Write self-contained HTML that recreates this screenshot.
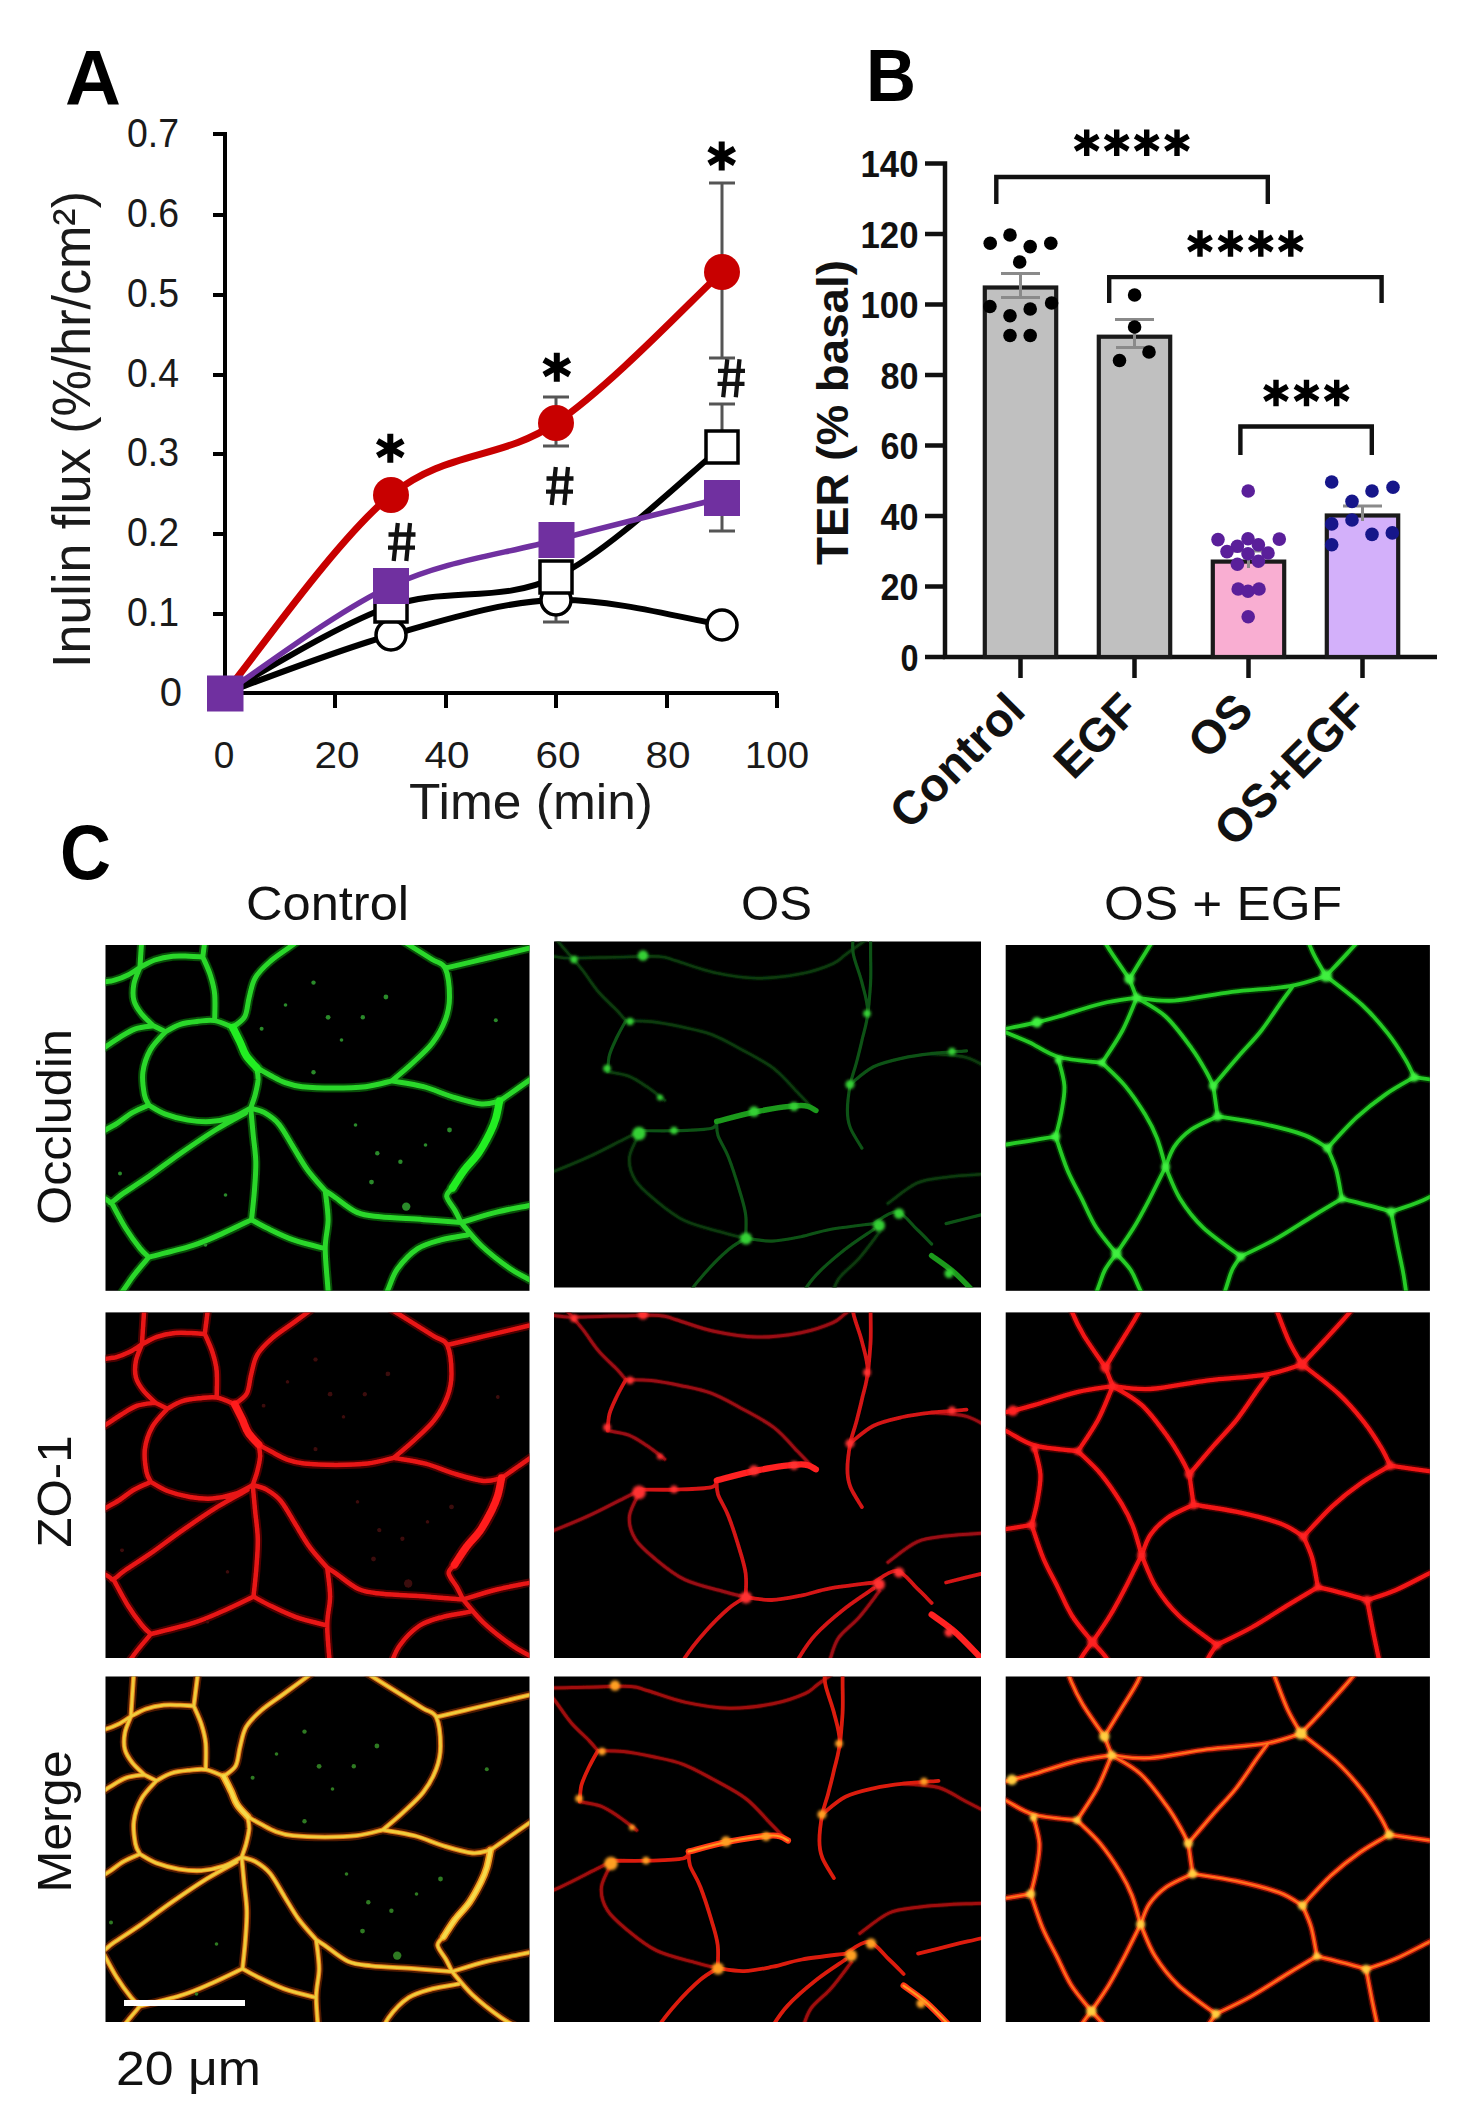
<!DOCTYPE html>
<html><head><meta charset="utf-8">
<style>
html,body{margin:0;padding:0;background:#fff;}
body{width:1470px;height:2117px;overflow:hidden;}
svg{display:block;}
text{font-family:"Liberation Sans",sans-serif;}
</style></head>
<body>
<svg width="1470" height="2117" viewBox="0 0 1470 2117">
<defs>
<g id="ast" stroke="#000" stroke-width="5.4" fill="none"><path d="M0,-13.3V13.3 M-11.5,-6.6L11.5,6.6 M-11.5,6.6L11.5,-6.6"/></g>
<g id="astA" stroke="#000" stroke-width="6" fill="none"><path d="M0,-14.5V14.5 M-12.8,-7.4L12.8,7.4 M-12.8,7.4L12.8,-7.4"/></g>
<g id="hash" stroke="#111" stroke-width="4.3" fill="none"><path d="M-4.2,-19L-8.3,19 M8,-19L4.3,19 M-13.5,-7.5H13.5 M-14,5.6H13"/></g>
<!--NETDEFS-->
<filter id="soft" x="-5%" y="-5%" width="110%" height="110%"><feGaussianBlur stdDeviation="0.75"/></filter>
<filter id="soft2" x="-20%" y="-20%" width="140%" height="140%"><feGaussianBlur stdDeviation="1.6"/></filter>
<g id="ves"><circle cx="208.0" cy="37.6" r="2.2"/><circle cx="222.6" cy="72.3" r="2.4"/><circle cx="257.3" cy="72.3" r="2.2"/><circle cx="280.4" cy="52.0" r="2.4"/><circle cx="156.1" cy="83.8" r="2.0"/><circle cx="208.0" cy="127.2" r="2.2"/><circle cx="344.0" cy="185.0" r="2.4"/><circle cx="271.8" cy="208.2" r="2.2"/><circle cx="294.9" cy="216.8" r="2.2"/><circle cx="266.0" cy="237.1" r="2.4"/><circle cx="300.7" cy="261.6" r="4.2"/><circle cx="390.3" cy="75.2" r="2.0"/><circle cx="14.5" cy="228.4" r="2.0"/><circle cx="236.0" cy="95.0" r="1.8"/><circle cx="180.0" cy="60.0" r="1.8"/><circle cx="320.0" cy="200.0" r="1.8"/><circle cx="120.0" cy="250.0" r="1.8"/><circle cx="100.0" cy="300.0" r="1.8"/><circle cx="250.0" cy="180.0" r="1.8"/></g>
<path id="n_ctrl_1" d="M127.2,82.3C128.4,84.8 132.4,92.6 134.7,97.3C136.9,102.0 137.9,106.5 140.7,110.7C143.4,114.9 149.4,120.7 151.2,122.7 M394.0,156.1C393.4,159.0 391.9,168.2 390.3,173.5C388.7,178.8 387.4,182.1 384.5,187.9C381.6,193.7 377.3,201.9 373.0,208.2C368.7,214.5 362.8,219.7 358.5,225.5C354.2,231.3 348.9,240.0 347.0,242.9"/>
<path id="n_ctrl_2" d="M38.6,-39.9C38.1,-33.3 36.6,-10.4 35.9,0.0C35.2,10.4 34.6,18.7 34.4,22.4 M34.4,22.4C32.4,23.6 26.6,27.8 22.4,29.9C18.2,32.0 12.7,34.1 9.0,35.2C5.3,36.3 8.1,35.4 0.0,36.7C-8.1,38.0 -32.9,42.2 -39.5,43.3 M34.4,22.4C36.9,21.2 43.9,16.9 49.4,15.0C54.9,13.1 61.6,11.8 67.3,11.2C73.0,10.6 78.8,11.1 83.8,11.2C88.8,11.3 95.0,11.9 97.3,12.0 M97.3,12.0C97.5,10.0 97.7,8.6 98.8,0.0C99.9,-8.6 102.9,-33.1 103.8,-39.7 M97.3,12.0C98.5,15.0 102.8,23.7 104.8,29.9C106.8,36.1 108.5,41.9 109.2,49.4C109.9,56.9 109.2,70.6 109.2,74.8 M34.4,22.4C33.4,25.1 29.4,33.4 28.4,38.9C27.4,44.4 27.1,50.4 28.4,55.4C29.6,60.4 32.6,64.6 35.9,68.8C39.1,73.0 45.9,78.8 47.9,80.8 M47.9,80.8C44.9,81.3 35.6,81.8 29.9,83.8C24.2,85.8 18.5,89.8 13.5,92.8C8.5,95.8 7.8,96.6 0.0,101.8C-7.8,107.0 -27.7,120.3 -33.3,124.0 M47.9,80.8L59.9,86.8 M59.9,86.8C62.4,85.5 69.3,81.0 74.8,79.3C80.3,77.5 87.1,76.9 92.8,76.3C98.5,75.7 103.5,74.6 109.2,75.6C114.9,76.6 124.2,81.2 127.2,82.3 M59.9,86.8C57.4,89.8 48.6,98.1 44.9,104.8C41.1,111.5 38.4,119.7 37.4,127.2C36.4,134.7 37.9,144.2 38.9,149.7C39.9,155.2 42.6,158.4 43.4,160.1 M127.2,82.3C129.2,80.5 136.4,76.8 139.2,71.8C141.9,66.8 141.9,58.9 143.7,52.4C145.4,45.9 146.2,38.9 149.7,32.9C153.2,26.9 158.4,22.0 164.6,16.5C170.8,11.0 178.0,6.7 187.1,0.0C196.2,-6.7 214.0,-19.7 219.4,-23.7 M151.2,122.7C151.4,124.7 152.8,130.2 152.6,134.7C152.3,139.2 150.9,145.0 149.7,149.7C148.5,154.4 145.9,160.9 145.2,163.1 M151.2,122.7C153.4,124.0 159.9,127.7 164.6,130.2C169.3,132.7 174.3,135.8 179.6,137.7C184.9,139.6 188.5,140.8 196.6,141.7C204.7,142.6 217.8,143.1 228.4,143.1C239.0,143.1 250.6,142.9 260.2,141.7C269.8,140.5 281.9,136.9 286.2,135.9 M145.2,163.1C142.2,164.6 133.9,169.8 127.2,172.1C120.5,174.3 112.3,176.1 104.8,176.6C97.3,177.1 89.8,176.3 82.3,175.1C74.8,173.8 66.4,171.6 59.9,169.1C53.4,166.6 46.1,161.6 43.4,160.1 M43.4,160.1C40.6,161.3 32.1,164.6 26.9,167.6C21.7,170.6 16.5,175.2 12.0,178.1C7.5,181.0 7.8,180.5 0.0,185.0C-7.8,189.5 -28.9,201.6 -34.7,204.9 M269.7,-21.3C275.4,-17.7 294.1,-6.0 303.6,0.0C313.1,6.0 320.7,10.7 326.7,14.5C332.7,18.4 336.8,16.9 339.7,23.1C342.6,29.4 344.0,43.3 344.0,52.0C344.0,60.7 342.6,67.5 339.7,75.2C336.8,82.9 332.2,91.1 326.7,98.3C321.2,105.5 313.2,112.2 306.5,118.5C299.8,124.8 289.6,133.0 286.2,135.9 M339.7,23.1C345.7,21.7 361.7,17.9 375.9,14.5C390.1,11.1 410.3,6.4 425.0,2.9C439.7,-0.6 457.4,-4.8 463.9,-6.3 M286.2,135.9C291.5,136.9 307.9,139.0 318.0,141.7C328.1,144.3 337.2,148.9 346.9,151.8C356.5,154.7 368.0,158.3 375.9,159.0C383.8,159.7 391.0,156.6 394.0,156.1 M394.0,156.1C396.8,154.2 405.3,148.2 410.5,144.6C415.7,141.0 417.1,139.9 425.0,134.4C432.9,128.9 452.3,115.2 457.7,111.4 M347.0,242.9C346.0,244.3 340.7,247.7 341.2,251.5C341.7,255.3 347.4,261.6 349.8,266.0C352.2,270.4 354.6,275.7 355.6,277.6 M355.6,277.6C349.3,277.1 331.5,275.7 318.0,274.7C304.5,273.7 285.8,273.0 274.7,271.8C263.6,270.6 259.2,270.8 251.5,267.4C243.8,264.0 233.7,255.1 228.4,251.5C223.1,247.9 221.1,246.8 219.7,245.8 M219.7,245.8C216.8,242.4 207.7,232.7 202.4,225.5C197.1,218.3 192.7,210.1 187.9,202.4C183.1,194.7 178.3,185.1 173.5,179.3C168.7,173.5 163.7,170.4 159.0,167.7C154.3,165.0 147.5,163.9 145.2,163.1 M355.6,277.6C361.4,275.9 378.7,270.3 390.3,267.4C401.9,264.5 412.7,262.8 425.0,260.2C437.3,257.6 457.6,253.4 464.2,252.1 M355.6,277.6C359.0,281.5 367.7,293.0 375.9,300.7C384.1,308.4 396.6,318.0 404.8,323.8C413.0,329.6 415.9,330.1 425.0,335.4C434.1,340.7 453.9,352.0 459.7,355.3 M265.3,382.4C268.1,376.3 277.5,355.8 281.9,346.0C286.3,336.2 286.9,330.9 292.0,323.8C297.1,316.7 305.0,308.4 312.2,303.6C319.4,298.8 327.1,297.2 335.4,294.9C343.7,292.6 357.6,290.8 362.0,290.0 M219.7,245.8C220.2,250.6 222.6,265.1 222.6,274.7C222.6,284.3 219.7,291.7 219.7,303.6C219.7,315.5 221.7,332.3 222.6,346.0C223.5,359.7 224.9,379.3 225.3,385.9 M219.7,303.6C214.4,302.2 197.5,298.3 187.9,294.9C178.3,291.5 168.9,286.7 161.9,283.3C154.9,279.9 148.7,276.1 146.0,274.7 M145.2,163.1C145.6,167.2 146.7,178.9 147.5,187.9C148.3,196.9 150.1,207.2 150.3,216.8C150.5,226.5 149.6,236.2 148.9,245.8C148.2,255.5 146.5,269.9 146.0,274.7 M146.0,274.7C140.9,277.1 125.5,284.8 115.6,289.1C105.7,293.4 98.7,296.9 86.7,300.7C74.7,304.5 50.6,310.3 43.4,312.2 M140.0,168.0C135.0,170.8 120.7,178.3 109.9,185.0C99.1,191.7 86.3,200.5 75.2,208.2C64.1,215.9 53.0,224.6 43.4,231.3C33.8,238.0 23.6,244.3 17.3,248.6C11.0,252.9 8.7,256.4 5.8,257.3C2.9,258.2 6.8,257.8 0.0,254.0C-6.8,250.2 -29.0,237.5 -34.8,234.2 M5.8,257.3C8.2,261.6 15.4,275.6 20.2,283.3C25.0,291.0 30.8,298.8 34.7,303.6C38.6,308.4 42.0,310.8 43.4,312.2 M43.4,312.2C41.0,315.1 33.2,324.0 28.9,329.6C24.5,335.2 23.1,337.8 17.3,346.0C11.5,354.2 -1.9,373.2 -5.8,378.7"/>
<path id="n_os_1" d="M162.7,168.0C169.5,166.3 189.3,160.7 203.3,158.0C217.3,155.3 237.1,152.2 246.9,152.0C256.7,151.8 259.5,156.2 262.0,157.0 M377.6,302.1C381.5,305.0 393.1,312.7 400.9,319.5C408.6,326.3 417.6,336.1 424.1,342.8C430.6,349.6 432.8,352.2 440.0,360.0C447.2,367.8 462.6,384.5 467.2,389.4"/>
<path id="n_os_2" d="M71.8,67.3C70.3,70.0 65.6,78.0 62.9,83.8C60.2,89.5 56.9,96.1 55.4,101.8C53.9,107.5 54.1,115.5 53.9,118.2 M162.7,168.0C162.9,170.3 162.1,176.1 164.0,182.0C165.9,187.9 170.7,193.9 174.3,203.3C178.0,212.7 183.0,228.5 185.9,238.2C188.8,247.9 190.7,253.6 191.7,261.4C192.7,269.1 191.7,280.8 191.7,284.7 M87.1,177.2C92.9,177.2 110.4,177.6 122.0,177.2C133.6,176.8 150.1,176.5 156.9,175.0C163.7,173.5 161.7,169.2 162.7,168.0 M191.7,284.7C188.8,286.6 181.1,290.5 174.3,296.3C167.5,302.1 158.3,311.3 151.0,319.5C143.7,327.7 135.5,338.1 130.7,345.7C125.9,353.3 126.2,355.7 122.0,365.0C117.8,374.3 108.3,395.4 105.6,401.5 M191.7,284.7C196.1,285.2 208.7,287.9 217.9,287.6C227.1,287.4 237.2,285.1 246.9,283.2C256.6,281.3 263.9,278.2 276.0,276.0C288.1,273.8 312.2,271.1 319.5,270.1 M299.2,-60.0C299.2,-53.3 299.2,-30.0 299.2,-20.0C299.2,-10.0 297.8,-8.2 299.2,0.0C300.6,8.2 305.5,19.3 307.9,29.0C310.3,38.7 313.7,48.4 313.7,58.1C313.7,67.8 309.8,78.4 307.9,87.1C306.0,95.8 304.0,103.1 302.1,110.4C300.2,117.7 297.8,122.9 296.3,130.7C294.9,138.4 293.4,149.6 293.4,156.9C293.4,164.2 293.9,168.0 296.3,174.3C298.7,180.6 306.0,191.2 307.9,194.6 M316.6,-60.0C316.6,-53.3 316.6,-30.0 316.6,-20.0C316.6,-10.0 316.6,-8.2 316.6,0.0C316.6,8.2 317.1,18.4 316.6,29.0C316.1,39.6 314.2,58.1 313.7,63.9 M296.3,130.7C300.2,127.8 310.8,117.6 319.5,113.3C328.2,109.0 338.9,106.8 348.6,104.6C358.3,102.4 367.0,101.4 377.6,100.2C388.2,99.0 406.7,97.8 412.5,97.3 M319.5,276.0C314.7,279.4 300.2,288.6 290.5,296.3C280.8,304.0 269.1,313.9 261.4,322.4C253.6,330.8 248.4,339.9 244.0,347.0C239.6,354.1 239.5,356.0 235.0,365.0C230.5,374.0 220.1,394.8 217.1,400.8 M319.5,270.1C323.4,268.2 335.5,257.5 342.8,258.5C350.1,259.5 357.3,270.7 363.1,276.0C368.9,281.3 375.2,288.1 377.6,290.5 M392.1,270.1C397.9,268.7 417.4,263.8 427.0,261.4C436.6,259.0 439.7,258.4 450.0,256.0C460.3,253.6 482.5,248.4 488.9,246.9"/>
<path id="n_os_3" d="M-39.8,-1.0C-33.2,-0.3 -9.1,2.1 0.0,3.0C9.1,3.9 5.0,4.4 15.0,4.5C25.0,4.6 44.9,4.0 59.9,3.7C74.9,3.5 94.5,2.4 104.8,3.0C115.1,3.6 112.8,4.7 122.0,7.3C131.2,9.9 146.2,16.0 159.8,18.9C173.4,21.8 188.8,24.5 203.3,24.7C217.8,24.9 234.3,22.7 246.9,20.3C259.5,17.9 271.2,13.6 278.9,10.2C286.6,6.8 285.2,5.6 293.0,0.0C300.8,-5.6 320.0,-19.5 325.4,-23.4 M-16.0,-35.4C-11.7,-30.3 2.6,-13.6 10.0,-5.0C17.4,3.6 22.6,9.2 28.4,16.5C34.2,23.8 39.1,32.2 44.9,38.9C50.6,45.6 58.4,52.2 62.9,56.9C67.4,61.6 70.3,65.6 71.8,67.3 M71.8,67.3C76.0,67.4 88.1,67.1 97.3,68.1C106.5,69.1 117.2,71.2 127.2,73.3C137.2,75.4 147.1,77.0 157.1,80.8C167.1,84.5 176.6,90.1 187.1,95.8C197.6,101.5 210.5,107.9 220.0,115.2C229.5,122.5 238.0,133.3 244.0,139.4C250.0,145.5 254.0,149.9 256.0,152.0 M53.9,118.2C57.4,119.0 68.3,120.2 74.8,122.7C81.3,125.2 86.8,129.2 92.8,133.2C98.8,137.2 107.7,144.4 110.7,146.7 M-57.7,238.4C-51.4,236.2 -29.6,228.4 -20.0,225.0C-10.4,221.6 -9.2,221.5 0.0,217.9C9.2,214.3 23.3,208.6 34.9,203.3C46.5,198.0 61.0,190.2 69.7,185.9C78.4,181.6 84.2,178.6 87.1,177.2 M87.1,177.2C85.2,181.5 76.5,195.1 75.5,203.3C74.5,211.5 76.9,219.3 81.3,226.6C85.7,233.9 93.5,240.1 101.7,246.9C109.9,253.7 119.6,261.9 130.7,267.2C141.8,272.5 158.3,276.0 168.5,278.9C178.7,281.8 187.8,283.7 191.7,284.7 M377.6,100.2C383.4,100.8 402.1,101.0 412.5,104.0C422.9,107.0 429.5,112.6 440.0,118.0C450.5,123.4 469.7,133.1 475.6,136.1 M334.0,249.8C338.9,246.4 353.4,233.8 363.1,229.5C372.8,225.2 381.5,225.1 392.1,223.7C402.8,222.2 417.4,221.4 427.0,220.8C436.6,220.2 439.5,220.4 450.0,220.0C460.5,219.6 483.3,218.8 490.0,218.6 M325.3,278.9C321.9,283.2 311.8,297.3 305.0,305.0C298.2,312.7 289.5,318.3 284.7,325.3C279.9,332.3 278.4,340.4 276.0,347.0C273.6,353.6 273.1,355.7 270.0,365.0C266.9,374.3 259.5,396.6 257.4,402.9"/>
<g id="b_os"><circle cx="89.0" cy="2.0" r="5.2"/><circle cx="85.0" cy="180.0" r="6.8"/><circle cx="120.0" cy="177.0" r="3.8"/><circle cx="200.0" cy="158.0" r="5.2"/><circle cx="240.0" cy="153.0" r="4.5"/><circle cx="192.0" cy="285.0" r="6.0"/><circle cx="325.0" cy="272.0" r="6.0"/><circle cx="345.0" cy="260.0" r="5.2"/><circle cx="296.0" cy="131.0" r="4.5"/><circle cx="313.0" cy="60.0" r="3.8"/><circle cx="20.0" cy="6.0" r="3.8"/><circle cx="106.0" cy="144.0" r="3.0"/><circle cx="53.0" cy="115.0" r="3.8"/><circle cx="76.0" cy="68.0" r="3.8"/><circle cx="395.0" cy="320.0" r="4.5"/><circle cx="398.0" cy="98.0" r="3.8"/></g>
<path id="n_ose_2" d="M99.7,54.9L107.0,73.7 M99.7,54.9C96.1,49.6 83.6,32.2 78.1,23.1C72.6,14.0 69.5,7.2 66.5,0.0C63.5,-7.2 63.1,-10.3 60.0,-20.0C56.9,-29.7 49.7,-51.7 47.6,-58.0 M99.7,54.9C102.3,50.6 110.0,38.0 115.6,28.9C121.1,19.8 128.9,8.2 133.0,0.0C137.1,-8.2 136.6,-10.4 140.0,-20.0C143.4,-29.6 151.0,-51.5 153.2,-57.8 M107.0,73.7C113.3,74.2 128.7,77.6 144.6,76.6C160.5,75.6 183.1,70.3 202.4,67.9C221.7,65.5 244.5,64.9 260.2,62.2C275.8,59.6 290.3,53.7 296.3,52.0 M107.0,73.7C101.2,74.7 85.3,76.4 72.3,79.5C59.3,82.6 39.8,89.4 28.9,92.5C18.0,95.6 15.4,96.4 7.2,98.3C-1.0,100.2 -8.9,101.7 -20.0,104.0C-31.1,106.3 -52.6,110.8 -59.1,112.2 M107.0,73.7C104.6,79.2 98.3,96.2 92.5,107.0C86.7,117.8 75.7,133.5 72.3,138.8 M107.0,73.7C111.8,76.8 126.8,84.1 135.9,92.5C145.1,100.9 155.2,115.1 161.9,124.3C168.7,133.5 172.8,141.2 176.4,147.5C180.0,153.8 182.4,159.5 183.6,161.9 M-56.8,94.4C-50.7,97.0 -29.5,106.0 -20.0,110.0C-10.5,114.0 -8.2,114.7 0.0,118.5C8.2,122.3 16.9,129.6 28.9,133.0C40.9,136.4 65.1,137.8 72.3,138.8 M72.3,138.8C76.2,142.7 88.2,153.2 95.4,161.9C102.6,170.6 110.3,182.1 115.6,190.8C120.9,199.5 123.8,205.2 127.2,213.9C130.6,222.6 134.5,238.1 135.9,242.9 M28.9,135.9C29.9,140.2 34.2,153.2 34.7,161.9C35.2,170.6 33.2,179.5 31.8,187.9C30.4,196.3 27.0,208.4 26.0,212.5 M26.0,212.5C21.7,213.2 7.7,215.6 0.0,216.8C-7.7,218.1 -10.1,218.4 -20.0,220.0C-29.9,221.6 -52.9,225.3 -59.5,226.3 M26.0,212.5C27.9,218.1 33.3,235.4 37.6,245.8C41.9,256.2 47.2,265.1 52.0,274.7C56.8,284.3 60.7,294.5 66.5,303.6C72.3,312.8 83.3,325.3 86.7,329.6 M86.7,329.6C89.6,325.3 98.8,312.3 104.1,303.6C109.4,294.9 114.2,285.8 118.5,277.6C122.8,269.4 127.2,260.2 130.1,254.4C133.0,248.6 134.9,244.8 135.9,242.9 M86.7,329.6C84.8,332.3 78.3,340.1 75.2,346.0C72.1,351.9 71.6,355.6 68.0,365.0C64.4,374.4 56.2,396.2 53.8,402.4 M86.7,329.6C89.1,332.3 97.1,340.1 101.0,346.0C104.9,351.9 105.6,355.8 110.0,365.0C114.4,374.2 124.3,395.1 127.1,401.1 M183.6,161.9L187.9,192.3 M183.6,161.9C187.7,157.1 200.2,142.2 208.2,133.0C216.1,123.8 224.1,116.2 231.3,107.0C238.5,97.8 246.2,85.6 251.5,78.1C256.8,70.6 261.2,64.8 263.1,62.2 M296.3,52.0C294.1,48.1 287.4,37.6 283.3,28.9C279.2,20.2 274.9,8.2 271.8,0.0C268.8,-8.2 268.3,-10.4 265.0,-20.0C261.7,-29.6 254.3,-51.6 252.1,-57.9 M296.3,52.0C299.9,48.1 310.1,37.6 318.0,28.9C325.9,20.2 337.0,8.2 344.0,0.0C351.0,-8.2 353.2,-11.5 360.0,-20.0C366.8,-28.5 380.8,-46.0 385.0,-51.2 M296.3,52.0C302.3,56.8 322.1,71.3 332.5,81.0C342.9,90.7 351.3,100.8 358.5,109.9C365.7,119.1 371.6,128.7 375.9,135.9C380.2,143.1 383.1,150.3 384.5,153.2 M384.5,153.2C391.2,154.2 414.1,157.5 425.0,159.0C435.9,160.5 439.2,160.7 450.0,162.0C460.8,163.3 483.1,166.0 489.7,166.8 M384.5,153.2C379.7,156.1 365.2,163.8 355.6,170.6C346.0,177.3 336.3,184.8 326.7,193.7C317.1,202.6 302.6,219.0 297.8,224.1 M187.9,192.3C195.1,193.5 216.8,196.4 231.3,199.5C245.8,202.6 263.6,207.0 274.7,211.1C285.8,215.2 293.9,221.9 297.8,224.1 M187.9,192.3C183.6,194.5 169.1,200.2 161.9,205.3C154.7,210.4 148.9,216.3 144.6,222.6C140.3,228.9 137.3,239.5 135.9,242.9 M297.8,224.1C299.2,227.7 304.1,237.4 306.5,245.8C308.9,254.2 311.2,269.9 312.2,274.7 M135.9,242.9C138.3,248.2 144.0,264.6 150.3,274.7C156.6,284.8 163.4,294.0 173.5,303.6C183.6,313.2 204.8,327.7 211.1,332.5 M211.1,332.5C216.9,329.6 233.8,321.9 245.8,315.1C257.8,308.4 272.2,298.7 283.3,292.0C294.4,285.3 307.4,277.6 312.2,274.7 M211.1,332.5C209.7,334.8 204.9,340.6 202.4,346.0C199.9,351.4 199.2,355.5 196.0,365.0C192.8,374.5 185.4,396.6 183.2,402.9 M312.2,274.7C317.0,275.9 333.0,279.7 341.2,281.9C349.4,284.1 358.0,286.7 361.4,287.7 M361.4,287.7C366.2,286.0 379.7,282.2 390.3,277.6C400.9,273.0 415.1,265.1 425.0,260.2C434.9,255.3 439.8,253.0 450.0,248.0C460.2,243.0 480.0,233.4 485.9,230.5 M361.4,287.7C362.4,292.8 365.3,308.3 367.2,318.0C369.1,327.7 371.5,338.2 373.0,346.0C374.5,353.8 374.5,355.2 376.0,365.0C377.5,374.8 381.2,397.9 382.2,404.5"/>
<g id="b_ose"><circle cx="99.7" cy="54.9" r="5.2"/><circle cx="107.0" cy="73.7" r="4.5"/><circle cx="296.3" cy="52.0" r="6.0"/><circle cx="72.3" cy="138.8" r="3.8"/><circle cx="28.9" cy="135.9" r="3.8"/><circle cx="183.6" cy="161.9" r="4.5"/><circle cx="187.9" cy="192.3" r="4.5"/><circle cx="384.5" cy="153.2" r="4.5"/><circle cx="297.8" cy="224.1" r="4.5"/><circle cx="135.9" cy="242.9" r="4.5"/><circle cx="26.0" cy="212.5" r="4.5"/><circle cx="312.2" cy="274.7" r="3.8"/><circle cx="361.4" cy="287.7" r="4.5"/><circle cx="86.7" cy="329.6" r="5.2"/><circle cx="211.1" cy="332.5" r="4.5"/><circle cx="7.2" cy="98.3" r="5.2"/></g>
<clipPath id="c_ctrl_0"><rect x="105.5" y="945.0" width="424.0" height="345.8"/></clipPath>
<clipPath id="c_ctrl_1"><rect x="105.5" y="1312.4" width="424.0" height="345.6"/></clipPath>
<clipPath id="c_ctrl_2"><rect x="105.5" y="1676.5" width="424.0" height="345.5"/></clipPath>
<clipPath id="c_os_0"><rect x="554.0" y="941.5" width="427.0" height="346.0"/></clipPath>
<clipPath id="c_os_1"><rect x="554.0" y="1312.4" width="427.0" height="345.6"/></clipPath>
<clipPath id="c_os_2"><rect x="554.0" y="1676.5" width="427.0" height="345.5"/></clipPath>
<clipPath id="c_ose_0"><rect x="1005.7" y="945.0" width="424.2" height="345.8"/></clipPath>
<clipPath id="c_ose_1"><rect x="1005.7" y="1312.4" width="424.2" height="345.6"/></clipPath>
<clipPath id="c_ose_2"><rect x="1005.7" y="1676.5" width="424.2" height="345.5"/></clipPath>
<!--/NETDEFS-->
</defs>
<rect x="0" y="0" width="1470" height="2117" fill="#fff"/>

<!-- ============ PANEL A ============ -->
<g id="panelA">
<text x="65" y="105" font-size="78" font-weight="bold" fill="#000" textLength="56" lengthAdjust="spacingAndGlyphs">A</text>
<!-- axes -->
<path d="M213,134 H225 V693 H778" fill="none" stroke="#000" stroke-width="4"/>
<g stroke="#000" stroke-width="4">
<line x1="213" y1="215" x2="225" y2="215"/>
<line x1="213" y1="295" x2="225" y2="295"/>
<line x1="213" y1="375" x2="225" y2="375"/>
<line x1="213" y1="454" x2="225" y2="454"/>
<line x1="213" y1="534" x2="225" y2="534"/>
<line x1="213" y1="614" x2="225" y2="614"/>
<line x1="335" y1="693" x2="335" y2="708"/>
<line x1="446" y1="693" x2="446" y2="708"/>
<line x1="556" y1="693" x2="556" y2="708"/>
<line x1="667" y1="693" x2="667" y2="708"/>
<line x1="777" y1="693" x2="777" y2="708"/>
</g>
<g font-size="40" fill="#1a1a1a" text-anchor="end">
<text x="179" y="147" textLength="52" lengthAdjust="spacingAndGlyphs">0.7</text>
<text x="179" y="227" textLength="52" lengthAdjust="spacingAndGlyphs">0.6</text>
<text x="179" y="307" textLength="52" lengthAdjust="spacingAndGlyphs">0.5</text>
<text x="179" y="387" textLength="52" lengthAdjust="spacingAndGlyphs">0.4</text>
<text x="179" y="466" textLength="52" lengthAdjust="spacingAndGlyphs">0.3</text>
<text x="179" y="546" textLength="52" lengthAdjust="spacingAndGlyphs">0.2</text>
<text x="179" y="626" textLength="52" lengthAdjust="spacingAndGlyphs">0.1</text>
<text x="182" y="706">0</text>
</g>
<g font-size="37" fill="#1a1a1a" text-anchor="middle">
<text x="224" y="768">0</text>
<text x="337" y="768" textLength="45" lengthAdjust="spacingAndGlyphs">20</text>
<text x="447" y="768" textLength="45" lengthAdjust="spacingAndGlyphs">40</text>
<text x="558" y="768" textLength="45" lengthAdjust="spacingAndGlyphs">60</text>
<text x="668" y="768" textLength="45" lengthAdjust="spacingAndGlyphs">80</text>
<text x="777" y="768" textLength="64" lengthAdjust="spacingAndGlyphs">100</text>
</g>
<text x="409" y="819" font-size="50" fill="#1a1a1a" textLength="244" lengthAdjust="spacingAndGlyphs">Time (min)</text>
<text transform="translate(90,668) rotate(-90)" font-size="53" fill="#1a1a1a" textLength="477" lengthAdjust="spacingAndGlyphs">Inulin flux (%/hr/cm²)</text>

<!-- error bars -->
<g stroke="#555" stroke-width="3" fill="none">
<path d="M722,183 V358 M709,183 H735 M709,358 H735"/>
<path d="M556,397 V446 M543,397 H569 M543,446 H569"/>
<path d="M722,404 V447 M709,404 H735"/>
<path d="M722,498 V531 M709,531 H735"/>
<path d="M556,603 V622 M543,622 H569"/>
</g>
<!-- series lines -->
<g fill="none" stroke-linecap="round" stroke-linejoin="round">
<path d="M225.0,693.0 C252.7,683.3 335.8,650.5 391.0,635.0 C446.2,619.5 500.8,601.7 556.0,600.0 C611.2,598.3 694.3,620.8 722.0,625.0" stroke="#000" stroke-width="6"/>
<path d="M225.0,693.0 C252.7,678.5 335.8,625.3 391.0,606.0 C446.2,586.7 500.8,603.5 556.0,577.0 C611.2,550.5 694.3,468.7 722.0,447.0" stroke="#000" stroke-width="6"/>
<path d="M225.0,693.0 C252.7,675.2 335.8,611.5 391.0,586.0 C446.2,560.5 500.8,554.7 556.0,540.0 C611.2,525.3 694.3,505.0 722.0,498.0" stroke="#7030a0" stroke-width="5.5"/>
<path d="M225.0,693.0 C252.7,660.0 335.8,540.0 391.0,495.0 C446.2,450.0 500.8,460.2 556.0,423.0 C611.2,385.8 694.3,297.2 722.0,272.0" stroke="#c80000" stroke-width="7"/>
</g>
<!-- markers -->
<g stroke="#000" stroke-width="3.5" fill="#fff">
<circle cx="391" cy="635" r="15"/>
<circle cx="556" cy="600" r="15"/>
<circle cx="722" cy="625" r="15"/>
<rect x="375" y="590" width="32" height="32"/>
<rect x="540" y="561" width="32" height="32"/>
<rect x="706" y="431" width="32" height="32"/>
</g>
<g fill="#7030a0">
<rect x="207" y="675.5" width="36.5" height="36"/>
<rect x="373" y="568" width="36" height="36"/>
<rect x="538.5" y="522" width="36" height="36"/>
<rect x="704" y="480" width="36" height="36"/>
</g>
<g fill="#c80000">
<circle cx="391" cy="495" r="18"/>
<circle cx="556" cy="423" r="18"/>
<circle cx="722" cy="272" r="18"/>
</g>
<!-- annotations -->
<use href="#astA" x="390.3" y="448.3"/>
<use href="#astA" x="556.8" y="367.3"/>
<use href="#astA" x="721.7" y="156"/>
<use href="#hash" x="402" y="542"/>
<use href="#hash" x="560" y="486"/>
<use href="#hash" x="731.5" y="378.3"/>
</g>

<!-- ============ PANEL B ============ -->
<g id="panelB">
<text x="866" y="101" font-size="75" font-weight="bold" fill="#000" textLength="50" lengthAdjust="spacingAndGlyphs">B</text>
<path d="M925,163.5 H945 V657 H1437" fill="none" stroke="#111" stroke-width="4.5"/>
<path d="M925,234.0H945 M925,304.5H945 M925,375.0H945 M925,445.5H945 M925,516.0H945 M925,586.5H945 M925,657.0H945" stroke="#111" stroke-width="4.5"/>
<path d="M1020.5,657V678 M1134.5,657V678 M1248.5,657V678 M1362.5,657V678" stroke="#111" stroke-width="4.5"/>
<g font-size="37" font-weight="bold" fill="#111" text-anchor="end">
<text x="918.5" y="177.0" textLength="58" lengthAdjust="spacingAndGlyphs">140</text>
<text x="918.5" y="247.5" textLength="58" lengthAdjust="spacingAndGlyphs">120</text>
<text x="918.5" y="318.0" textLength="58" lengthAdjust="spacingAndGlyphs">100</text>
<text x="918.5" y="388.5" textLength="38" lengthAdjust="spacingAndGlyphs">80</text>
<text x="918.5" y="459.0" textLength="38" lengthAdjust="spacingAndGlyphs">60</text>
<text x="918.5" y="529.5" textLength="38" lengthAdjust="spacingAndGlyphs">40</text>
<text x="918.5" y="600.0" textLength="38" lengthAdjust="spacingAndGlyphs">20</text>
<text x="918.5" y="670.5" textLength="18" lengthAdjust="spacingAndGlyphs">0</text>
</g>
<text transform="translate(848,565) rotate(-90)" font-size="45" font-weight="bold" fill="#111" textLength="305" lengthAdjust="spacingAndGlyphs">TER (% basal)</text>
<rect x="984.8" y="287.5" width="71.4" height="369.5" fill="#c0c0c0" stroke="#1a1a1a" stroke-width="4.2"/>
<rect x="1098.8" y="336.7" width="71.4" height="320.3" fill="#c0c0c0" stroke="#1a1a1a" stroke-width="4.2"/>
<rect x="1212.8" y="561.6" width="71.4" height="95.4" fill="#f9aed2" stroke="#1a1a1a" stroke-width="4.2"/>
<rect x="1326.8" y="515.5" width="71.4" height="141.5" fill="#d3b0fa" stroke="#1a1a1a" stroke-width="4.2"/>
<g stroke="#8a8a8a" stroke-width="3" fill="none">
<path d="M1020.5,273.5V298 M1001,273.5H1040 M1001,297.5H1040"/>
<path d="M1134.5,319.5V347.5 M1115,319.5H1154 M1116,347.5H1150"/>
<path d="M1248.5,551V568 M1230,551H1267"/>
<path d="M1362.5,506V521 M1343,506H1382"/>
</g>
<g fill="#000"><circle cx="990.2" cy="243.2" r="6.8"/><circle cx="1010.0" cy="235.0" r="6.8"/><circle cx="1030.2" cy="246.6" r="6.8"/><circle cx="1050.8" cy="243.2" r="6.8"/><circle cx="1019.7" cy="262.0" r="6.8"/><circle cx="989.9" cy="306.5" r="6.8"/><circle cx="1051.6" cy="303.0" r="6.8"/><circle cx="1030.2" cy="309.0" r="6.8"/><circle cx="1010.0" cy="315.8" r="6.8"/><circle cx="1010.0" cy="335.5" r="6.8"/><circle cx="1030.2" cy="335.5" r="6.8"/></g>
<g fill="#000"><circle cx="1134.6" cy="295.0" r="6.8"/><circle cx="1134.6" cy="327.0" r="6.8"/><circle cx="1149.0" cy="352.0" r="6.8"/><circle cx="1119.5" cy="360.5" r="6.8"/></g>
<g fill="#5a1f9a"><circle cx="1248.2" cy="491.0" r="6.8"/><circle cx="1218.0" cy="539.6" r="6.8"/><circle cx="1279.3" cy="539.1" r="6.8"/><circle cx="1248.0" cy="538.8" r="6.8"/><circle cx="1237.4" cy="546.3" r="6.8"/><circle cx="1258.4" cy="544.8" r="6.8"/><circle cx="1227.0" cy="551.6" r="6.8"/><circle cx="1268.0" cy="553.0" r="6.8"/><circle cx="1248.0" cy="553.8" r="6.8"/><circle cx="1237.4" cy="564.3" r="6.8"/><circle cx="1258.4" cy="561.3" r="6.8"/><circle cx="1238.2" cy="589.0" r="6.8"/><circle cx="1248.0" cy="591.2" r="6.8"/><circle cx="1259.0" cy="589.0" r="6.8"/><circle cx="1248.2" cy="616.7" r="6.8"/></g>
<g fill="#16168a"><circle cx="1331.7" cy="482.0" r="6.8"/><circle cx="1372.0" cy="491.0" r="6.8"/><circle cx="1393.0" cy="487.2" r="6.8"/><circle cx="1352.0" cy="501.4" r="6.8"/><circle cx="1352.0" cy="520.0" r="6.8"/><circle cx="1331.7" cy="523.9" r="6.8"/><circle cx="1372.0" cy="534.4" r="6.8"/><circle cx="1392.3" cy="532.9" r="6.8"/><circle cx="1331.7" cy="544.8" r="6.8"/></g>
<g fill="none" stroke="#111" stroke-width="4.4" stroke-linejoin="miter">
<path d="M996.3,204V177H1267.8V204"/>
<path d="M1109.2,303V277.1H1381.6V303"/>
<path d="M1240.4,455V426.5H1371.8V455"/>
</g>
<use href="#ast" x="1086.7" y="142.7"/><use href="#ast" x="1116.7" y="142.7"/><use href="#ast" x="1146.7" y="142.7"/><use href="#ast" x="1177.0" y="142.7"/>
<use href="#ast" x="1200.0" y="243.5"/><use href="#ast" x="1230.5" y="243.5"/><use href="#ast" x="1260.8" y="243.5"/><use href="#ast" x="1290.8" y="243.5"/>
<use href="#ast" x="1276.0" y="393.0"/><use href="#ast" x="1306.5" y="393.0"/><use href="#ast" x="1336.7" y="393.0"/>
<g font-size="47" font-weight="bold" fill="#111" text-anchor="end">
<text transform="translate(1027.5,713) rotate(-45)">Control</text>
<text transform="translate(1141.5,713) rotate(-45)">EGF</text>
<text transform="translate(1255.5,713) rotate(-45)">OS</text>
<text transform="translate(1369.5,713) rotate(-45)">OS+EGF</text>
</g>
</g>

<!-- ============ PANEL C ============ -->
<g id="panelC">
<text x="60" y="879" font-size="78" font-weight="bold" fill="#000" textLength="51" lengthAdjust="spacingAndGlyphs">C</text>
<g font-size="48" fill="#111">
<text x="246" y="919.5" textLength="163" lengthAdjust="spacingAndGlyphs">Control</text>
<text x="741" y="920" textLength="71" lengthAdjust="spacingAndGlyphs">OS</text>
<text x="1104" y="920" textLength="238" lengthAdjust="spacingAndGlyphs">OS + EGF</text>
<text transform="translate(71,1225) rotate(-90)" textLength="196" lengthAdjust="spacingAndGlyphs">Occludin</text>
<text transform="translate(71,1547.5) rotate(-90)" textLength="112" lengthAdjust="spacingAndGlyphs">ZO-1</text>
<text transform="translate(71,1892.5) rotate(-90)" textLength="142" lengthAdjust="spacingAndGlyphs">Merge</text>
<text x="116" y="2085" textLength="145" lengthAdjust="spacingAndGlyphs">20 μm</text>
</g>
<rect x="105.5" y="945.0" width="424.0" height="345.8" fill="#000"/>
<g clip-path="url(#c_ctrl_0)"><g transform="translate(105.5,945.0)" fill="none" stroke-linecap="round" stroke-linejoin="round" filter="url(#soft)">
<use href="#n_ctrl_2" stroke="#0c8a0c" stroke-width="9.0" opacity="0.55"/>
<use href="#n_ctrl_1" stroke="#0c8a0c" stroke-width="12.0" opacity="0.55"/>
<use href="#n_ctrl_2" stroke="#2cd82c" stroke-width="5.0"/>
<use href="#n_ctrl_1" stroke="#22ee22" stroke-width="7.5"/>
<use href="#ves" fill="#2a8a2a" stroke="none"/>
</g></g>
<rect x="105.5" y="1312.4" width="424.0" height="345.6" fill="#000"/>
<g clip-path="url(#c_ctrl_1)"><g transform="translate(107.5,1321.9)" fill="none" stroke-linecap="round" stroke-linejoin="round" filter="url(#soft)">
<use href="#n_ctrl_2" stroke="#880000" stroke-width="8.5" opacity="0.55"/>
<use href="#n_ctrl_1" stroke="#880000" stroke-width="12.0" opacity="0.55"/>
<use href="#n_ctrl_2" stroke="#e81616" stroke-width="4.5"/>
<use href="#n_ctrl_1" stroke="#ff1a1a" stroke-width="7.5"/>
<use href="#ves" fill="#3a0a0a" stroke="none"/>
</g></g>
<rect x="105.5" y="1676.5" width="424.0" height="345.5" fill="#000"/>
<g clip-path="url(#c_ctrl_2)"><g transform="translate(96.5,1694.0)" fill="none" stroke-linecap="round" stroke-linejoin="round" filter="url(#soft)">
<use href="#n_ctrl_2" stroke="#983000" stroke-width="8.5" opacity="0.50"/>
<use href="#n_ctrl_1" stroke="#983000" stroke-width="11.0" opacity="0.50"/>
<use href="#n_ctrl_2" stroke="#e07a18" stroke-width="4.8"/>
<use href="#n_ctrl_1" stroke="#f09a1c" stroke-width="7.2"/>
<use href="#n_ctrl_2" stroke="#f0cc3a" stroke-width="2.8"/>
<use href="#n_ctrl_1" stroke="#f6da4a" stroke-width="4.0"/>
<use href="#ves" fill="#2f7a22" stroke="none"/>
</g></g>
<rect x="554.0" y="941.5" width="427.0" height="346.0" fill="#000"/>
<g clip-path="url(#c_os_0)"><g transform="translate(554.0,953.5)" fill="none" stroke-linecap="round" stroke-linejoin="round" filter="url(#soft)">
<use href="#n_os_3" stroke="#06240a" stroke-width="5.0" opacity="0.60"/>
<use href="#n_os_3" stroke="#0b3a0e" stroke-width="2.6"/>
<use href="#n_os_2" stroke="#0f5214" stroke-width="3.2"/>
<use href="#n_os_1" stroke="#1c9a1c" stroke-width="5.5"/>
<use href="#b_os" fill="#36d036" stroke="none" filter="url(#soft2)"/>
</g></g>
<rect x="554.0" y="1312.4" width="427.0" height="345.6" fill="#000"/>
<g clip-path="url(#c_os_1)"><g transform="translate(554.0,1312.4)" fill="none" stroke-linecap="round" stroke-linejoin="round" filter="url(#soft)">
<use href="#n_os_3" stroke="#600608" stroke-width="5.0" opacity="0.60"/>
<use href="#n_os_3" stroke="#9a0e12" stroke-width="3.0"/>
<use href="#n_os_2" stroke="#d41414" stroke-width="3.8"/>
<use href="#n_os_1" stroke="#ff2020" stroke-width="6.2"/>
<use href="#b_os" fill="#ff3030" stroke="none" filter="url(#soft2)"/>
</g></g>
<rect x="554.0" y="1676.5" width="427.0" height="345.5" fill="#000"/>
<g clip-path="url(#c_os_2)"><g transform="translate(526.0,1683.5)" fill="none" stroke-linecap="round" stroke-linejoin="round" filter="url(#soft)">
<use href="#n_os_3" stroke="#600806" stroke-width="5.0" opacity="0.60"/>
<use href="#n_os_3" stroke="#a0100c" stroke-width="3.0"/>
<use href="#n_os_2" stroke="#dc1c10" stroke-width="3.8"/>
<use href="#n_os_1" stroke="#ff3a14" stroke-width="6.2"/>
<use href="#n_os_1" stroke="#ff9a20" stroke-width="2.2"/>
<use href="#b_os" fill="#ffa020" stroke="none" filter="url(#soft2)"/>
</g></g>
<rect x="1005.7" y="945.0" width="424.2" height="345.8" fill="#000"/>
<g clip-path="url(#c_ose_0)"><g transform="translate(1029.7,924.0)" fill="none" stroke-linecap="round" stroke-linejoin="round" filter="url(#soft)">
<use href="#n_ose_2" stroke="#0b7a0b" stroke-width="7.0" opacity="0.45"/>
<use href="#n_ose_2" stroke="#26cc26" stroke-width="3.8"/>
<use href="#b_ose" fill="#40f040" stroke="none" filter="url(#soft2)"/>
</g></g>
<rect x="1005.7" y="1312.4" width="424.2" height="345.6" fill="#000"/>
<g clip-path="url(#c_ose_1)"><g transform="translate(1005.7,1312.4)" fill="none" stroke-linecap="round" stroke-linejoin="round" filter="url(#soft)">
<use href="#n_ose_2" stroke="#880000" stroke-width="7.5" opacity="0.50"/>
<use href="#n_ose_2" stroke="#f21414" stroke-width="4.3"/>
<use href="#b_ose" fill="#ff2424" stroke="none" filter="url(#soft2)"/>
</g></g>
<rect x="1005.7" y="1676.5" width="424.2" height="345.5" fill="#000"/>
<g clip-path="url(#c_ose_2)"><g transform="translate(1004.7,1681.5)" fill="none" stroke-linecap="round" stroke-linejoin="round" filter="url(#soft)">
<use href="#n_ose_2" stroke="#901000" stroke-width="7.5" opacity="0.50"/>
<use href="#n_ose_2" stroke="#ee3412" stroke-width="4.4"/>
<use href="#n_ose_2" stroke="#ff7a1c" stroke-width="1.6"/>
<use href="#b_ose" fill="#ffd040" stroke="none" filter="url(#soft2)"/>
</g></g>
<rect x="124" y="2000" width="121" height="6" fill="#fff"/>
</g>
</svg>
</body></html>
